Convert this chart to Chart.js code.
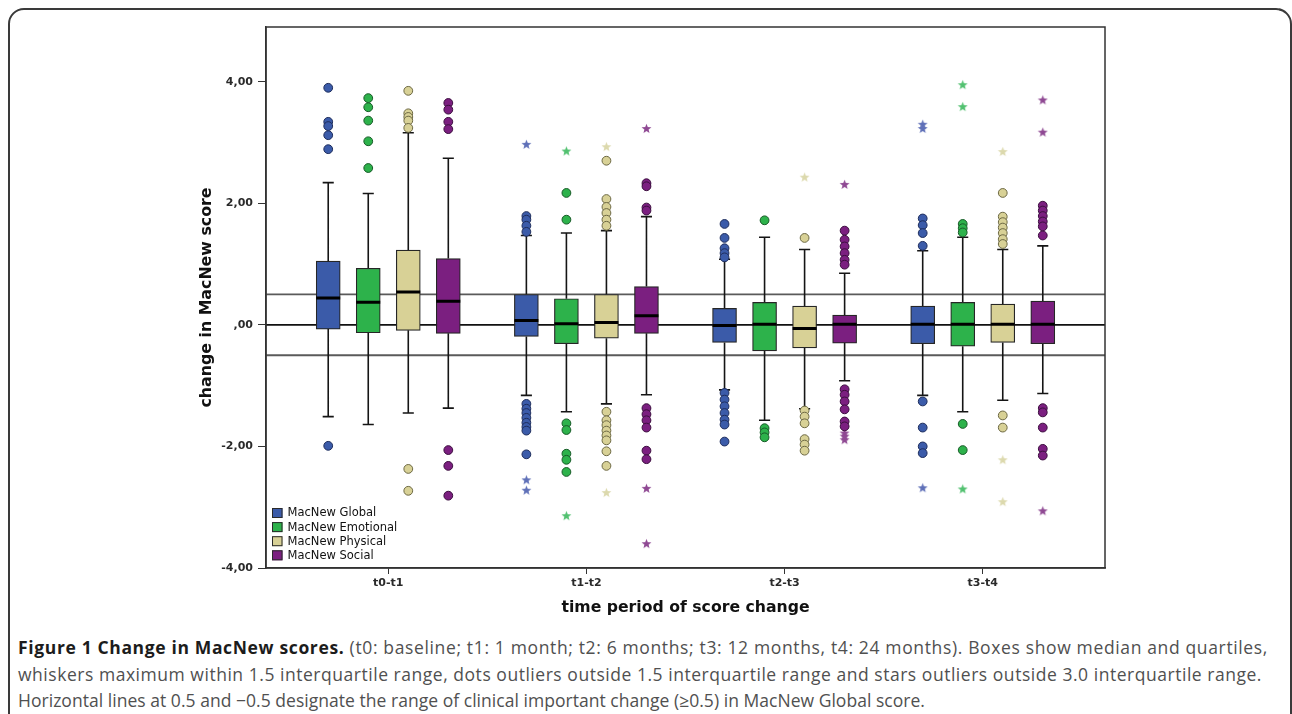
<!DOCTYPE html>
<html>
<head>
<meta charset="utf-8">
<script src="https://cdn.jsdelivr.net/npm/chart.js@4.4.1/dist/chart.umd.min.js"></script>
<style>
  html, body { margin: 0; padding: 0; background: #fff; width: 1292px; height: 714px; overflow: hidden; }
  #wrap { position: relative; width: 1292px; height: 714px; }
  #chart { position: absolute; left: 0; top: 0; }
  #frame { position: absolute; left: 8px; top: 8px; width: 1284px; height: 800px; box-sizing: border-box;
           border: 2px solid #3a3a3a; border-radius: 16px 16px 0 0; pointer-events: none; }
  #cap { position: absolute; left: 18px; top: 634px; font-family: "Open Sans", sans-serif; font-size: 17.5px;
         line-height: 26.5px; color: #505050; }
  #cap .l { white-space: nowrap; }
  #cap b { color: #1c1c1c; font-weight: 700; }
</style>
</head>
<body>
<div id="wrap">
  <canvas id="chart" width="1292" height="632"></canvas>
  <div id="cap">
    <div class="l" data-w="1250"><b>Figure 1 Change in MacNew scores.</b> (t0: baseline; t1: 1 month; t2: 6 months; t3: 12 months, t4: 24 months). Boxes show median and quartiles,</div>
    <div class="l" data-w="1244">whiskers maximum within 1.5 interquartile range, dots outliers outside 1.5 interquartile range and stars outliers outside 3.0 interquartile range.</div>
    <div class="l" data-w="907">Horizontal lines at 0.5 and −0.5 designate the range of clinical important change (≥0.5) in MacNew Global score.</div>
  </div>
  <div id="frame"></div>
</div>
<script>
// ---------------- DATA ----------------
const periods = ['t0-t1', 't1-t2', 't2-t3', 't3-t4'];
const seriesNames = ['MacNew Global', 'MacNew Emotional', 'MacNew Physical', 'MacNew Social'];
const yTickValues = [-4, -2, 0, 2, 4];
const refLevels = [0.5, 0, -0.5];

// MacNew Global
const globalLow    = [-1.51, -1.16, -1.07, -1.16];
const globalQ1     = [-0.07, -0.19, -0.29, -0.31];
const globalMedian = [0.44, 0.07, -0.01, 0.01];
const globalQ3     = [1.05, 0.50, 0.27, 0.31];
const globalHigh   = [2.34, 1.47, 1.08, 1.22];
const globalOutliers = [
  [3.90, 3.34, 3.27, 3.12, 2.89, -1.99],
  [1.79, 1.73, 1.63, 1.53, -1.30, -1.38, -1.45, -1.53, -1.61, -1.68, -1.74, -2.13],
  [1.66, 1.43, 1.26, 1.18, 1.11, -1.12, -1.23, -1.34, -1.45, -1.56, -1.64, -1.92],
  [1.75, 1.64, 1.51, 1.30, -1.26, -1.69, -2.00, -2.11]
];
const globalExtremes = [[], [2.97, -2.55, -2.72], [], [3.30, 3.23, -2.68]];

// MacNew Emotional
const emotionalLow    = [-1.64, -1.43, -1.57, -1.43];
const emotionalQ1     = [-0.13, -0.31, -0.43, -0.35];
const emotionalMedian = [0.37, 0.02, 0.01, 0.01];
const emotionalQ3     = [0.93, 0.43, 0.37, 0.37];
const emotionalHigh   = [2.16, 1.51, 1.44, 1.44];
const emotionalOutliers = [
  [3.73, 3.58, 3.36, 3.02, 2.58],
  [2.17, 1.73, -1.62, -1.73, -2.12, -2.22, -2.42],
  [1.72, -1.70, -1.77, -1.85],
  [1.66, 1.59, 1.52, -1.63, -2.06]
];
const emotionalExtremes = [[], [2.86, -3.14], [], [3.95, 3.59, -2.70]];

// MacNew Physical
const physicalLow    = [-1.45, -1.30, -1.38, -1.24];
const physicalQ1     = [-0.09, -0.22, -0.38, -0.29];
const physicalMedian = [0.54, 0.04, -0.06, 0.01];
const physicalQ3     = [1.23, 0.50, 0.31, 0.34];
const physicalHigh   = [3.16, 1.55, 1.24, 1.24];
const physicalOutliers = [
  [3.85, 3.48, 3.42, 3.36, 3.24, -2.37, -2.73],
  [2.70, 2.07, 1.94, 1.84, 1.73, 1.63, -1.43, -1.57, -1.65, -1.74, -1.82, -1.90, -2.08, -2.32],
  [1.43, -1.41, -1.51, -1.62, -1.88, -1.97, -2.07],
  [2.17, 1.78, 1.69, 1.60, 1.51, 1.41, 1.33, -1.49, -1.69]
];
const physicalExtremes = [[], [2.93, -2.76], [2.43], [2.85, -2.22, -2.91]];

// MacNew Social
const socialLow    = [-1.37, -1.15, -0.92, -1.13];
const socialQ1     = [-0.14, -0.14, -0.30, -0.31];
const socialMedian = [0.39, 0.15, 0.01, 0.01];
const socialQ3     = [1.09, 0.63, 0.16, 0.39];
const socialHigh   = [2.74, 1.78, 0.85, 1.30];
const socialOutliers = [
  [3.65, 3.54, 3.34, 3.22, -2.06, -2.32, -2.81],
  [2.33, 2.28, 1.93, 1.88, -1.37, -1.47, -1.57, -1.69, -2.07, -2.21],
  [1.55, 1.40, 1.29, 1.18, 1.07, 0.99, -1.06, -1.15, -1.26, -1.39, -1.59, -1.67],
  [1.96, 1.88, 1.79, 1.70, 1.62, 1.47, -1.37, -1.44, -1.69, -2.04, -2.15]
];
const socialExtremes = [[], [3.23, -2.69, -3.60], [2.31, -1.78, -1.83, -1.89], [3.70, 3.17, -3.06]];

// ---------------- STYLE ----------------
const fills   = ['#3b5ba9', '#2db24b', '#d8d196', '#7b1f80'];
const edges   = ['#1e2d5c', '#175a27', '#6c6843', '#3b0e3e'];
const starCol = ['#5f70b8', '#52c170', '#dcd9ad', '#8f4993'];
const X_MIN = -0.617, X_MAX = 3.617;
const OFFSETS = [-0.303, -0.101, 0.101, 0.303];
const HALF_BOX = 0.0605, HALF_CAP = 0.028;

const series = [
  { low: globalLow, q1: globalQ1, med: globalMedian, q3: globalQ3, high: globalHigh, out: globalOutliers, ext: globalExtremes },
  { low: emotionalLow, q1: emotionalQ1, med: emotionalMedian, q3: emotionalQ3, high: emotionalHigh, out: emotionalOutliers, ext: emotionalExtremes },
  { low: physicalLow, q1: physicalQ1, med: physicalMedian, q3: physicalQ3, high: physicalHigh, out: physicalOutliers, ext: physicalExtremes },
  { low: socialLow, q1: socialQ1, med: socialMedian, q3: socialQ3, high: socialHigh, out: socialOutliers, ext: socialExtremes }
];

function makeStar(color) {
  const c = document.createElement('canvas');
  const s = 11; c.width = s; c.height = s;
  const g = c.getContext('2d');
  const R = 5.2, r = 2.2, cx = s / 2, cy = s / 2 + 0.4;
  g.beginPath();
  for (let k = 0; k < 10; k++) {
    const rad = k % 2 === 0 ? R : r;
    const a = -Math.PI / 2 + k * Math.PI / 5;
    const px = cx + rad * Math.cos(a), py = cy + rad * Math.sin(a);
    k === 0 ? g.moveTo(px, py) : g.lineTo(px, py);
  }
  g.closePath();
  g.fillStyle = color; g.fill();
  return c;
}

const GAP = { x: null, y: null };
const datasets = [];

// boxes (floating bars)
series.forEach((s, si) => {
  datasets.push({
    type: 'bar', label: seriesNames[si],
    data: periods.map((p, i) => ({ x: i + OFFSETS[si], y: [s.q1[i], s.q3[i]] })),
    backgroundColor: fills[si], borderColor: '#262626', borderWidth: 1.2, borderSkipped: false,
    barThickness: 24, grouped: false, order: 5
  });
});

// whiskers + caps, medians
const whiskerData = [];
const medianData = [];
series.forEach((s, si) => {
  periods.forEach((p, i) => {
    const x = i + OFFSETS[si];
    whiskerData.push({ x, y: s.low[i] }, { x, y: s.q1[i] }, GAP,
                     { x, y: s.q3[i] }, { x, y: s.high[i] }, GAP,
                     { x: x - HALF_CAP, y: s.low[i] }, { x: x + HALF_CAP, y: s.low[i] }, GAP,
                     { x: x - HALF_CAP, y: s.high[i] }, { x: x + HALF_CAP, y: s.high[i] }, GAP);
    medianData.push({ x: x - HALF_BOX, y: s.med[i] }, { x: x + HALF_BOX, y: s.med[i] }, GAP);
  });
});
datasets.push({ type: 'scatter', label: 'whiskers', data: whiskerData, showLine: true, spanGaps: false,
  borderColor: '#151515', borderWidth: 1.6, pointRadius: 0, order: 6 });
datasets.push({ type: 'scatter', label: 'medians', data: medianData, showLine: true, spanGaps: false,
  borderColor: '#000', borderWidth: 3, pointRadius: 0, order: 2 });

// reference lines
const refData = [];
refLevels.forEach(v => refData.push({ x: X_MIN, y: v }, { x: X_MAX, y: v }, GAP));
datasets.push({ type: 'scatter', label: 'reference', data: refData, showLine: true, spanGaps: false,
  borderColor: '#555', borderWidth: 1.8, pointRadius: 0, order: 10,
  segment: { borderColor: ctx => ctx.p0.parsed.y === 0 ? '#111' : '#5a5a5a' } });

// outliers (circles) and extremes (stars)
series.forEach((s, si) => {
  const od = [], ed = [];
  periods.forEach((p, i) => {
    s.out[i].forEach(v => od.push({ x: i + OFFSETS[si], y: v }));
    s.ext[i].forEach(v => ed.push({ x: i + OFFSETS[si], y: v }));
  });
  datasets.push({ type: 'scatter', label: seriesNames[si] + ' outliers', data: od, pointStyle: 'circle',
    pointRadius: 4.4, backgroundColor: fills[si], borderColor: edges[si], borderWidth: 1, order: 1 });
  datasets.push({ type: 'scatter', label: seriesNames[si] + ' extremes', data: ed, pointStyle: makeStar(starCol[si]),
    pointRadius: 5, backgroundColor: starCol[si], order: 1 });
});

const framePlugin = {
  id: 'frame',
  afterDraw(chart) {
    const { ctx, chartArea: a } = chart;
    ctx.save();
    ctx.strokeStyle = '#333'; ctx.lineWidth = 1.5;
    ctx.strokeRect(a.left, a.top, a.right - a.left, a.bottom - a.top);
    ctx.restore();
  }
};

// legend inside the plot, bottom-left, built from the box datasets
const insideLegend = {
  id: 'insideLegend',
  afterDraw(chart) {
    const { ctx, chartArea: a } = chart;
    const boxes = chart.data.datasets.filter(d => d.type === 'bar');
    ctx.save();
    ctx.font = '11.5px "DejaVu Sans", sans-serif';
    ctx.textBaseline = 'middle';
    boxes.forEach((d, k) => {
      const top = a.bottom - 60 + k * 14.1;
      const left = a.left + 6;
      ctx.fillStyle = d.backgroundColor;
      ctx.fillRect(left, top, 10.5, 10);
      ctx.strokeStyle = '#2a2a2a'; ctx.lineWidth = 1;
      ctx.strokeRect(left + 0.5, top + 0.5, 9.5, 9);
      ctx.fillStyle = '#111';
      ctx.fillText(d.label, left + 15.5, top + 5.5);
    });
    ctx.restore();
  }
};

Chart.defaults.font.family = '"DejaVu Sans", sans-serif';
Chart.defaults.color = '#222';

new Chart(document.getElementById('chart'), {
  type: 'bar',
  data: { datasets },
  plugins: [framePlugin, insideLegend],
  options: {
    responsive: false, animation: false, events: [],
    layout: { padding: { left: 0, top: 27, right: 187, bottom: 0 } },
    plugins: {
      tooltip: { enabled: false },
      legend: { display: false }
    },
    scales: {
      x: {
        type: 'linear', min: X_MIN, max: X_MAX, offset: false,
        grid: { display: true, drawOnChartArea: false, drawTicks: true, tickLength: 6, color: '#333', offset: false },
        border: { display: true, color: '#333', width: 1.5 },
        afterBuildTicks: sc => { sc.ticks = periods.map((p, i) => ({ value: i })); },
        afterFit: sc => { sc.height = 64; },
        ticks: { padding: 3, font: { size: 11, weight: 'bold' }, color: '#2a2a2a', autoSkip: false, maxRotation: 0,
          callback: v => periods[v] },
        title: { display: true, text: 'time period of score change', color: '#111',
          font: { size: 15.7, weight: 'bold' }, padding: { top: 0, bottom: 14.5 } }
      },
      y: {
        type: 'linear', min: -4, max: 4.9, beginAtZero: false,
        grid: { display: true, drawOnChartArea: false, drawTicks: true, tickLength: 8, color: '#333' },
        border: { display: true, color: '#333', width: 1.5 },
        afterBuildTicks: sc => { sc.ticks = yTickValues.map(v => ({ value: v })); },
        afterFit: sc => { sc.width = 266; },
        ticks: { padding: 5, font: { size: 11, weight: 'bold' }, color: '#2a2a2a',
          callback: v => v === 0 ? ',00' : v.toFixed(2).replace('.', ',') },
        title: { display: true, text: 'change in MacNew score', color: '#111',
          font: { size: 15.8, weight: 'bold' }, padding: { top: 197.5, bottom: 0 } }
      }
    }
  }
});

// fit caption lines to the reference widths
function fitCaption() {
  document.querySelectorAll('#cap .l').forEach(el => {
    el.style.letterSpacing = '0px';
    const target = +el.dataset.w;
    const r = document.createRange(); r.selectNodeContents(el);
    const w = r.getBoundingClientRect().width;
    const n = el.textContent.length;
    el.style.letterSpacing = ((target - w) / n) + 'px';
  });
}
fitCaption();
if (document.fonts && document.fonts.ready) document.fonts.ready.then(fitCaption);
</script>
</body>
</html>
